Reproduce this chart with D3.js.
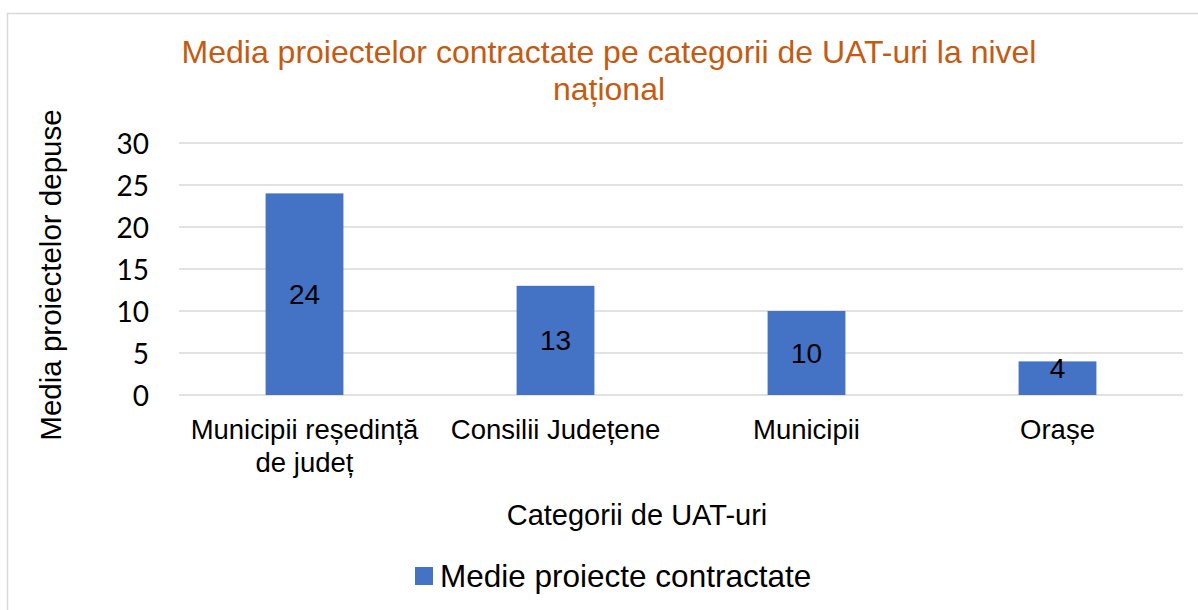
<!DOCTYPE html>
<html>
<head>
<meta charset="utf-8">
<script src="https://cdn.jsdelivr.net/npm/d3@7"></script>
<style>
  html, body { margin: 0; padding: 0; background: #fff; overflow: hidden; }
  text { font-family: "Liberation Sans", Arial, sans-serif; fill: #000; }
</style>
</head>
<body>
<div id="chart"></div>
<script>
const categories = [["Municipii reședință", "de județ"], ["Consilii Județene"], ["Municipii"], ["Orașe"]];
const values = [24, 13, 10, 4];
const yTicks = [0, 5, 10, 15, 20, 25, 30];
const titleLines = ["Media proiectelor contractate pe categorii de UAT-uri la nivel", "național"];
const seriesName = "Medie proiecte contractate";

const width = 1198, height = 610;
const plot = { left: 179, right: 1183, top: 143, bottom: 395 };

const svg = d3.select("#chart").append("svg")
    .attr("width", width)
    .attr("height", height);

// chart area border
svg.append("rect")
    .attr("x", 7.5).attr("y", 13.5)
    .attr("width", 1220).attr("height", 640)
    .style("fill", "#fff")
    .style("stroke", "#d9d9d9")
    .style("stroke-width", 1.5);

const x = d3.scaleBand()
    .domain(d3.range(categories.length))
    .range([plot.left, plot.right])
    .paddingInner(0.69)
    .paddingOuter(0.345);

const y = d3.scaleLinear()
    .domain([0, 30])
    .range([plot.bottom, plot.top]);

// gridlines
svg.append("g")
    .selectAll("line")
    .data(yTicks)
    .enter()
    .append("line")
    .attr("x1", plot.left).attr("x2", plot.right)
    .attr("y1", d => y(d)).attr("y2", d => y(d))
    .style("stroke", "#d9d9d9")
    .style("stroke-width", 1.5);

// y axis labels
const yAxis = svg.append("g")
    .attr("transform", "translate(" + 149 + ",0)")
    .call(d3.axisLeft(y).tickValues(yTicks).tickSize(0).tickPadding(0));
yAxis.select(".domain").remove();
yAxis.selectAll("text")
    .style("font-family", "Lato, Carlito, sans-serif")
    .style("font-size", "28px")
    .attr("fill", "#000")
    .attr("dy", "0.36em");

// bars
svg.append("g")
    .selectAll("rect")
    .data(values)
    .enter()
    .append("rect")
    .attr("x", (d, i) => x(i))
    .attr("y", d => y(d))
    .attr("width", x.bandwidth())
    .attr("height", d => y(0) - y(d))
    .style("fill", "#4472c4");

// data labels
svg.append("g")
    .selectAll("text")
    .data(values)
    .enter()
    .append("text")
    .attr("text-anchor", "middle")
    .attr("x", (d, i) => x(i) + x.bandwidth() / 2)
    .attr("y", d => Math.min((y(d) + y(0)) / 2, y(0) - 27.5))
    .attr("dy", "0.36em")
    .style("font-size", "28px")
    .text(d => d);

// category labels
const cat = svg.append("g")
    .selectAll("text")
    .data(categories)
    .enter()
    .append("text")
    .attr("text-anchor", "middle")
    .attr("x", (d, i) => x(i) + x.bandwidth() / 2)
    .attr("y", 439)
    .style("font-size", "27.5px");
cat.selectAll("tspan")
    .data(d => d)
    .enter()
    .append("tspan")
    .attr("x", function () { return d3.select(this.parentNode).attr("x"); })
    .attr("dy", (d, i) => i === 0 ? 0 : 33)
    .text(d => d);

// title
svg.append("g")
    .selectAll("text")
    .data(titleLines)
    .enter()
    .append("text")
    .attr("text-anchor", "middle")
    .attr("x", 609)
    .attr("y", (d, i) => 63 + i * 37)
    .style("font-size", "32px")
    .style("fill", "#c55a11")
    .text(d => d);

// axis titles
svg.append("text")
    .attr("text-anchor", "middle")
    .attr("x", 637)
    .attr("y", 525)
    .style("font-size", "29px")
    .text("Categorii de UAT-uri");

svg.append("text")
    .attr("text-anchor", "middle")
    .attr("transform", "translate(61,275)rotate(-90)")
    .style("font-size", "29.5px")
    .text("Media proiectelor depuse");

// legend
const legend = svg.append("g");
legend.append("rect")
    .attr("x", 415).attr("y", 567)
    .attr("width", 18).attr("height", 18)
    .style("fill", "#4472c4");
legend.append("text")
    .attr("x", 440)
    .attr("y", 587)
    .style("font-size", "31.5px")
    .text(seriesName);
</script>
</body>
</html>
